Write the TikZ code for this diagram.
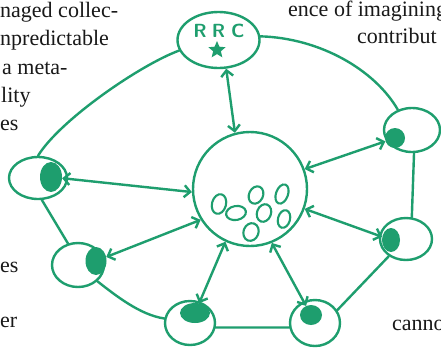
\documentclass[tikz,border=0pt]{standalone}
\usepackage{fontspec}
\setmainfont{Liberation Serif}
\usetikzlibrary{shapes.geometric,arrows.meta}
\definecolor{grn}{RGB}{30,158,110}
\begin{document}
\begin{tikzpicture}[x=1pt,y=-1pt,
  ln/.style={draw=grn,line width=2.4pt,line cap=round,line join=round},
  nd/.style={ellipse,draw=grn,line width=2.4pt,inner sep=0pt},
  blob/.style={ellipse,fill=grn,inner sep=0pt},
  arr/.style={ln,{Straight Barb[length=6pt,width=12pt]}-{Straight Barb[length=6pt,width=12pt]}},
  oval/.style={ellipse,draw=grn,line width=2.1pt,inner sep=0pt},
  txt/.style={anchor=base west,inner sep=0pt,font=\fontsize{22}{26}\selectfont,text=black!90}
]
\useasboundingbox (0,0) rectangle (441,349);
\fill[white] (0,0) rectangle (441,349);
\clip (0,0) rectangle (441,349);

% surrounding text
\node[txt] (t1) at (0,17) {naged collec-};
\node[txt] (t2) at (0,45) {npredictable};
\node[txt] (t3) at (2,74) {a meta-};
\node[txt] (t4) at (1,102) {lity};
\node[txt] (t5) at (0,130) {es};
\node[txt] (t6) at (0,272) {es};
\node[txt] (t7) at (0,327) {er};
\node[txt] (t8) at (288,16) {ence of imagining};
\node[txt] (t9) at (357,43) {contribut};
\node[txt] (t10) at (392,330) {canno};

% central circle
\node[circle,draw=grn,line width=2.4pt,minimum size=114pt,inner sep=0pt] (c) at (250,189) {};
\node[oval,minimum width=14pt,minimum height=20pt,rotate=-15] (o1) at (219,204) {};
\node[oval,minimum width=20pt,minimum height=14pt,rotate=10] (o2) at (236,213) {};
\node[oval,minimum width=14pt,minimum height=18pt,rotate=-25] (o3) at (256,195) {};
\node[oval,minimum width=12pt,minimum height=20pt,rotate=-20] (o4) at (282,194) {};
\node[oval,minimum width=14pt,minimum height=18pt,rotate=-20] (o5) at (264,213) {};
\node[oval,minimum width=15pt,minimum height=18pt,rotate=-20] (o6) at (251,232) {};
\node[oval,minimum width=12pt,minimum height=18pt,rotate=-15] (o7) at (284,219) {};

% outer nodes
\node[nd,minimum width=82pt,minimum height=56pt] (rrc) at (218.5,40) {};
\node[text=grn,font=\fontsize{19}{19}\selectfont\sffamily\bfseries,inner sep=0pt] (lbl) at (219,31) {R\hspace{5pt}R\hspace{6pt}C};
\node[star,star points=5,star point ratio=2.2,fill=grn,minimum size=18pt,inner sep=0pt] (star) at (217,50) {};

\node[nd,minimum width=58pt,minimum height=42pt] (lu) at (38,178) {};
\node[nd,minimum width=52pt,minimum height=44pt] (ll) at (78,265) {};
\node[nd,minimum width=50pt,minimum height=44pt] (bl) at (190,323) {};
\node[nd,minimum width=50pt,minimum height=46pt] (br) at (315,323) {};
\node[nd,minimum width=52pt,minimum height=42pt] (rl) at (406,239) {};
\node[nd,minimum width=56pt,minimum height=44pt] (ru) at (412,130) {};

\node[blob,minimum width=22pt,minimum height=30pt] (lub) at (51,177) {};
\node[blob,minimum width=21pt,minimum height=28pt] (llb) at (96,261) {};
\node[blob,minimum width=30pt,minimum height=20pt] (blb) at (195,313) {};
\node[blob,minimum width=22pt,minimum height=20pt] (brb) at (311,315) {};
\node[blob,minimum width=18pt,minimum height=24pt] (rlb) at (391,240) {};
\node[blob,minimum width=20pt,minimum height=20pt] (rub) at (395,138) {};

% outer ring
\draw[ln] (rrc.195) .. controls (140,65) and (60,120) .. (lu.north);
\draw[ln] (lu.280) -- (ll.115);
\draw[ln] (ll.-40) .. controls (115,295) and (140,315) .. (bl.170);
\draw[ln] (bl.-10) -- (br.190);
\draw[ln] (br.30) -- (rl.225);
\draw[ln] (rl.75) -- (ru.-85);
\draw[ln] (ru.125) .. controls (375,70) and (320,38) .. (rrc.5);

% spokes
\draw[arr] (c.105) -- (rrc.-75);
\draw[arr] (c.20) -- (rub);
\draw[arr] (c.-20) -- (rlb);
\draw[arr] (c.-68) -- (brb);
\draw[arr] (c.-115) -- (blb);
\draw[arr] (c.-148) -- (llb);
\draw[arr] (c.-177) -- (lub);
\end{tikzpicture}
\end{document}
